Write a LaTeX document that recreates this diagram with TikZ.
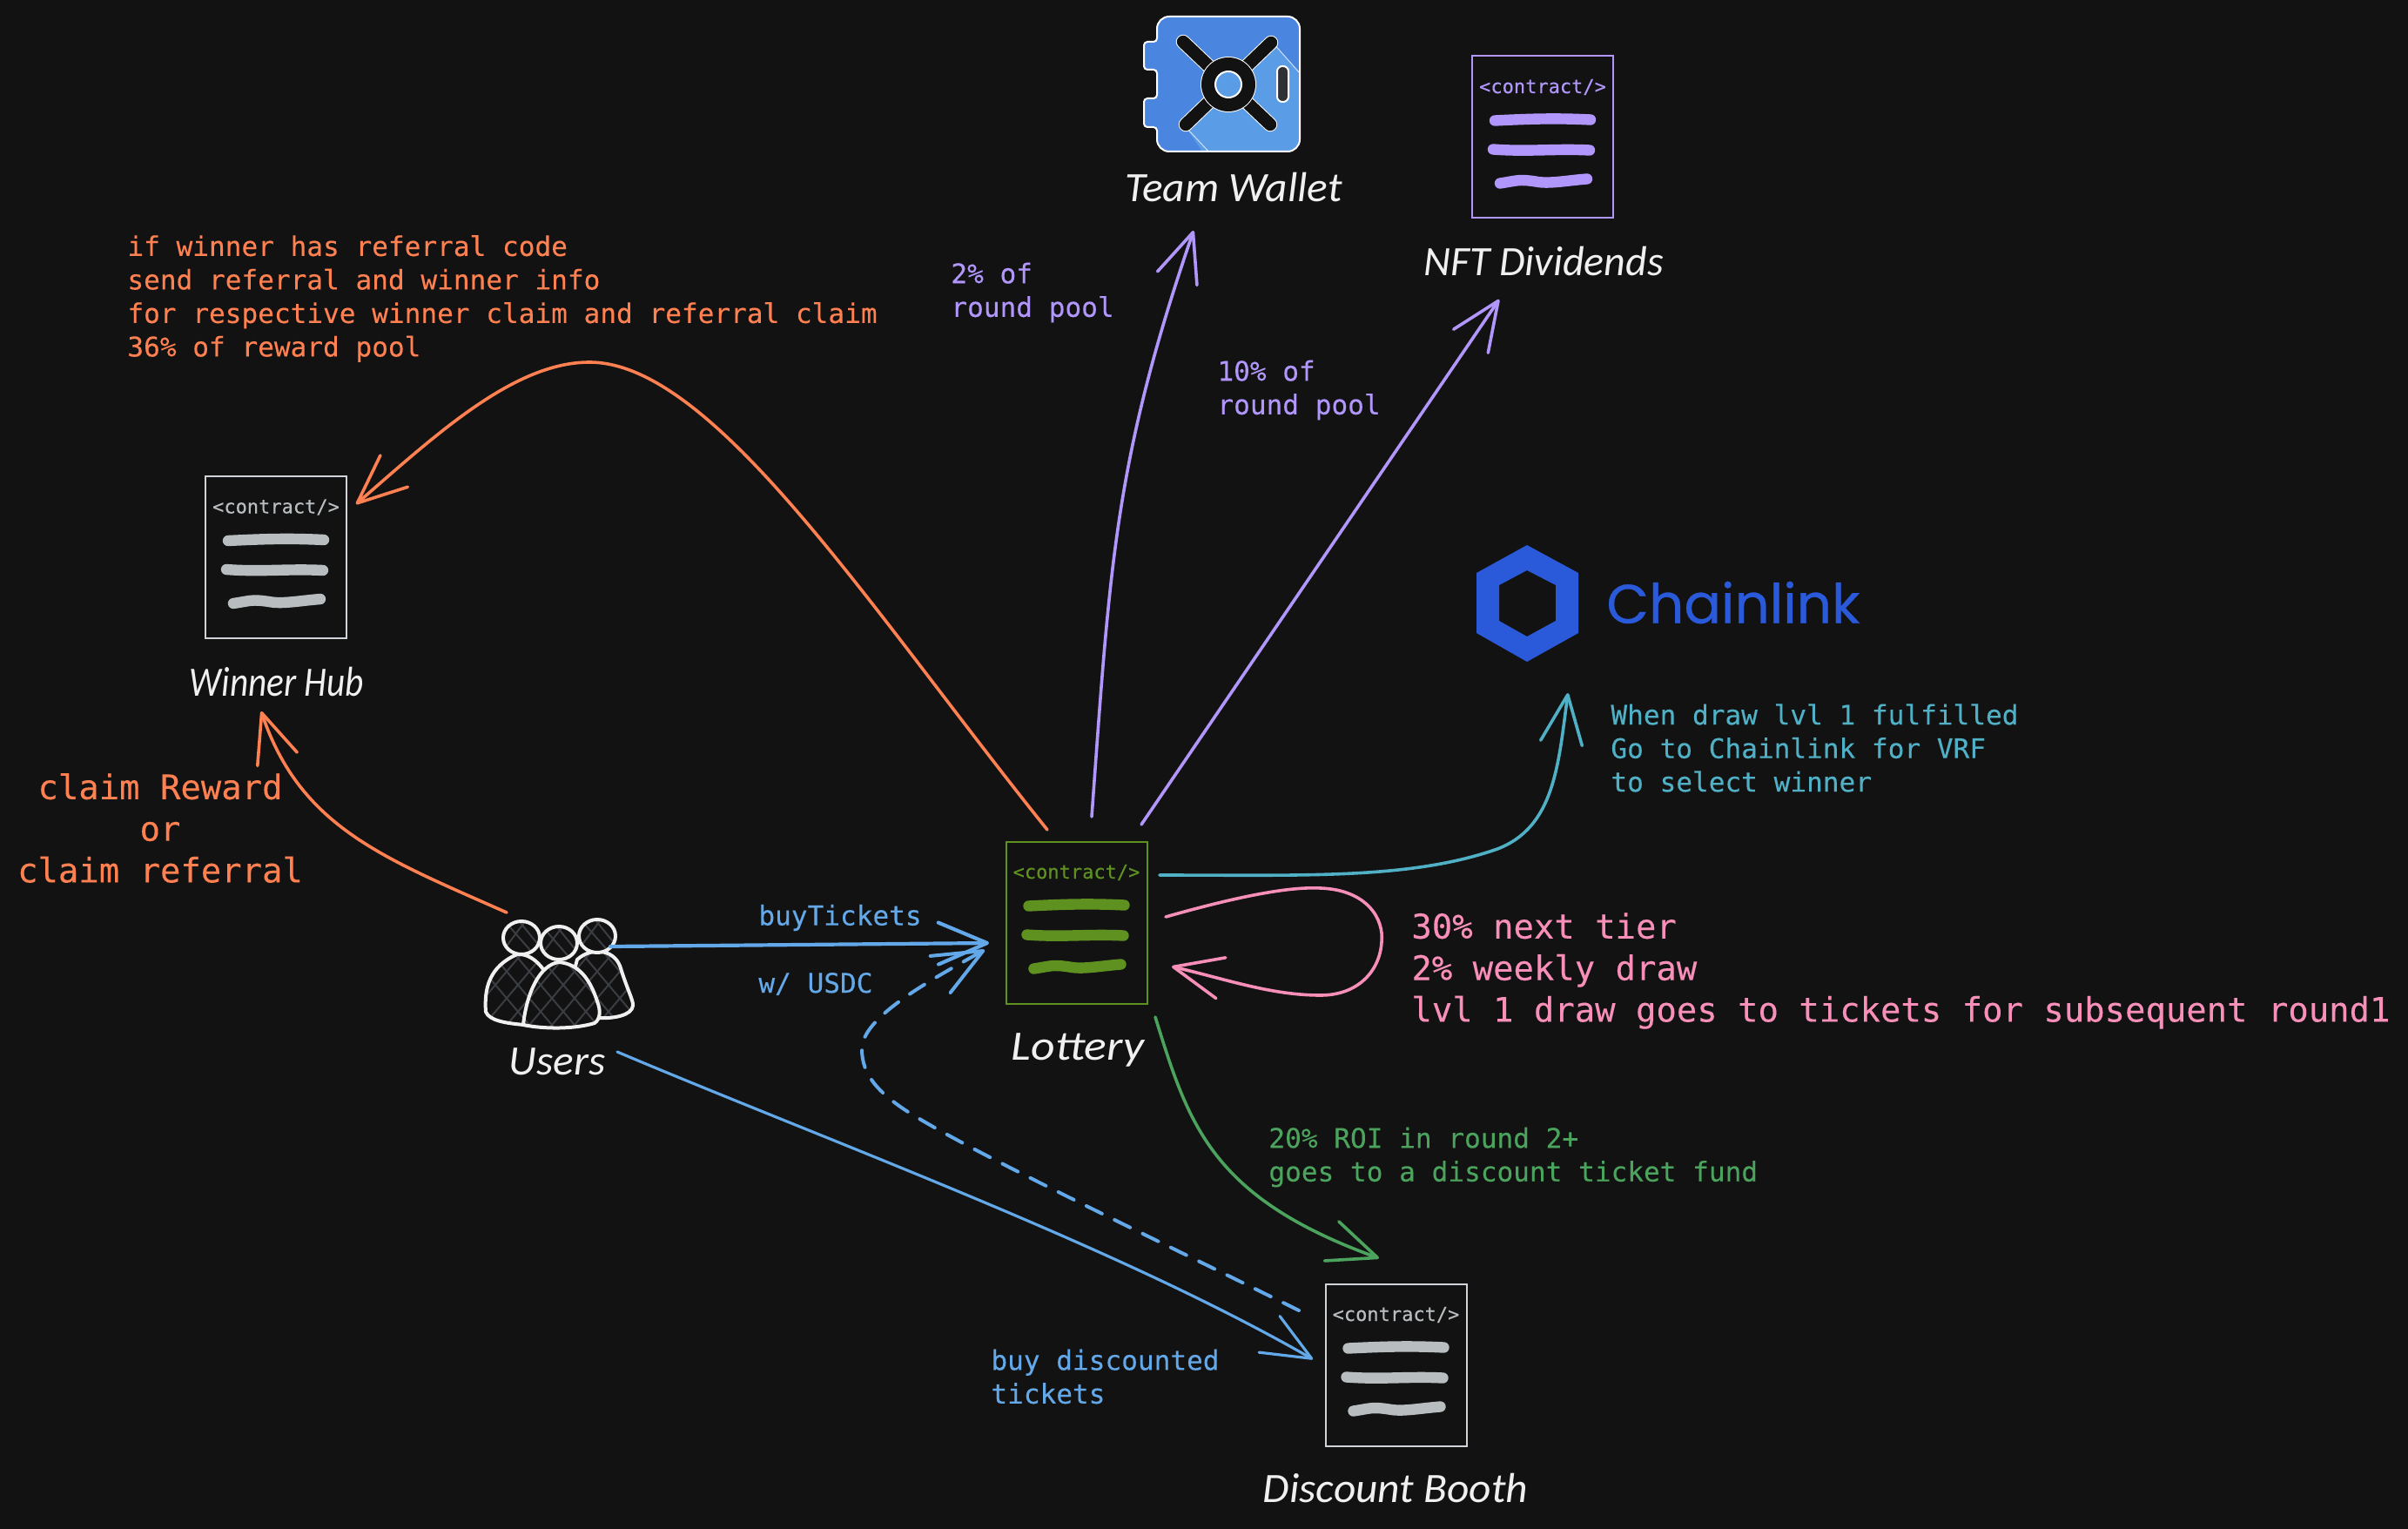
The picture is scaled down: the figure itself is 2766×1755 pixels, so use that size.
\documentclass[tikz,border=0pt]{standalone}
\usepackage{fontspec}
\setmainfont{Carlito}
\setmonofont[FakeBold=0.2]{DejaVu Sans Mono}
\newfontfamily\chainfont[FakeBold=0.5]{Poppins}
\usetikzlibrary{arrows.meta}
\definecolor{bgc}{HTML}{121212}
\definecolor{orangec}{HTML}{FF8050}
\definecolor{purplec}{HTML}{B197FC}
\definecolor{bluec}{HTML}{63A8E8}
\definecolor{tealc}{HTML}{4FB0C6}
\definecolor{pinkc}{HTML}{F78FB8}
\definecolor{greenc}{HTML}{4BA35E}
\definecolor{lotc}{HTML}{5F9120}
\definecolor{greyc}{HTML}{B8BDC0}
\definecolor{boxc}{HTML}{D0D4D8}
\definecolor{inkc}{HTML}{F0F0F0}
\definecolor{hatchc}{HTML}{3A3D42}
\definecolor{walleta}{HTML}{4A86E0}
\definecolor{walletb}{HTML}{5B9CE6}
\definecolor{chainc}{HTML}{2A5ADA}
\tikzset{
  contractbox/.style={draw=#1,line width=1pt,minimum width=81pt,minimum height=93pt,inner sep=0,outer sep=0},
  ctag/.style={font=\fontsize{11}{13}\selectfont\ttfamily,inner sep=0,text=#1},
  barline/.style={draw=#1,line width=6.2pt,line cap=round},
  hand/.style={font=\fontsize{24}{28}\selectfont\itshape,text=inkc,inner sep=0},
  small/.style={font=\fontsize{15.55}{19.25}\selectfont\ttfamily,align=left,anchor=west,inner sep=0,text=#1},
  big/.style={font=\fontsize{19.45}{23.9}\selectfont\ttfamily,inner sep=0,text=#1},
  arr/.style={-{Straight Barb[length=28pt,width=24pt,round]},line width=1.8pt,line cap=round,draw=#1},
  person/.style={draw=inkc,line width=2pt,fill=bgc,line join=round},
  hatch/.style={draw=hatchc,line width=1pt}
}
\newcommand{\contractdoc}[5]{%
  \node[contractbox=#4] (#1) at (#2,#3) {};
  \node[ctag=#5] (#1tag) at ([shift={(0,-57.5)}]#1.center) {<contract/>};
  \draw[barline=#5] ([shift={(-55,-19)}]#1.center) .. controls +(40,-2) and +(-40,-2) .. ([shift={(55,-20)}]#1.center);
  \draw[barline=#5] ([shift={(-57,14)}]#1.center) .. controls +(40,3) and +(-40,-2) .. ([shift={(54,15)}]#1.center);
  \draw[barline=#5] ([shift={(-49,53)}]#1.center) .. controls +(20,-3) and +(-20,-3) .. ([shift={(-8,51)}]#1.center) .. controls +(15,3) and +(-25,2) .. ([shift={(51,48)}]#1.center);
}
\newcommand{\bodyA}{(558,1162) .. controls (556,1135) and (562,1110) .. (594,1096) .. controls (612,1095) and (625,1110) .. (640,1140) -- (640,1178) -- (602,1177) .. controls (580,1175) and (562,1172) .. (558,1162) -- cycle}
\newcommand{\bodyB}{(663,1102) .. controls (672,1094) and (682,1092) .. (691,1093) .. controls (705,1095) and (711,1105) .. (713,1112) .. controls (720,1135) and (728,1150) .. (727,1155) .. controls (726,1166) and (705,1170) .. (688,1169) -- (650,1150) -- cycle}
\newcommand{\bodyC}{(642,1105) .. controls (620,1108) and (605,1140) .. (601,1177) .. controls (625,1182) and (660,1182) .. (683,1175) .. controls (690,1170) and (690,1160) .. (686,1150) .. controls (678,1125) and (665,1107) .. (642,1105) -- cycle}
\newcommand{\hatchlines}{%
  \foreach \k in {0,...,12}{
    \draw[hatch] (530+\k*26,1085) -- ++(110,130);
    \draw[hatch] (530+\k*26,1085) -- ++(-110,130);
  }}
\newcommand{\walletbody}{[rounded corners=7pt] (1329,19) -- (1493,19) -- (1493,174) -- (1329,174) [rounded corners=2pt] -- (1329,146) -- (1314,146) -- (1314,113) -- (1329,113) -- (1329,80) -- (1314,80) -- (1314,48) -- (1329,48) [rounded corners=7pt] -- cycle}
\begin{document}
\begin{tikzpicture}[x=0.5pt,y=-0.5pt]
\useasboundingbox (0,0) rectangle (2766,1755);
\fill[bgc] (-6,-6) rectangle (2772,1761);

% contract documents
\contractdoc{winner}{317}{640}{boxc}{greyc}
\contractdoc{lottery}{1236.5}{1059.5}{lotc}{lotc}
\contractdoc{nft}{1772}{157.5}{purplec}{purplec}
\contractdoc{discount}{1603.5}{1567.5}{boxc}{greyc}

% team wallet icon
\begin{scope}
  \clip \walletbody;
  \fill[walleta] (1300,0) rectangle (1500,190);
  \fill[walletb] (1462,49) -- (1500,92) -- (1500,190) -- (1392,190) -- (1362,146) -- cycle;
  \draw[white!70!walletb,line width=0.5pt] (1462,49) -- (1500,92) (1392,178) -- (1362,146);
\end{scope}
\draw[white,line width=1pt] \walletbody;
\draw[white,line width=8.2pt,line cap=round] (1359,48) -- (1459,143) (1460,49) -- (1362,143);
\draw[bgc,line width=7.2pt,line cap=round] (1359,48) -- (1459,143) (1460,49) -- (1362,143);
\fill[white] (1411,97) circle (32);
\fill[bgc] (1411,97) circle (31);
\draw[white,fill=walletb,line width=1pt] (1411,97) circle (15);
\draw[white,fill=hatchc!70!bgc,line width=1pt,rounded corners=3pt] (1467,76) rectangle (1480,117);
\node[inner sep=0] (walleticon) at (1411,97) {};

% chainlink logo
\fill[chainc,even odd rule] (1754,626) -- (1813,658) -- (1813,727) -- (1754,760) -- (1696,727) -- (1696,658) -- cycle
  (1754,655) -- (1787,672) -- (1787,713) -- (1754,731) -- (1722,713) -- (1722,672) -- cycle;
\node[inner sep=0] (chainicon) at (1754,693) {};
\node[anchor=west,inner sep=0,text=chainc,font=\fontsize{31.5}{36}\selectfont\chainfont] (chainname) at (1845,692) {Chainlink};

% users icon
\node[inner sep=0] (usersicon) at (640,1130) {};
\fill[bgc] \bodyA; 
\begin{scope}\clip \bodyA; \hatchlines \end{scope}
\draw[person,fill=none] \bodyA;
\fill[bgc] \bodyB;
\begin{scope}\clip \bodyB; \hatchlines \end{scope}
\draw[person,fill=none] \bodyB;
\fill[bgc] \bodyC;
\begin{scope}\clip \bodyC; \hatchlines \end{scope}
\draw[person,fill=none] \bodyC;
\foreach \hx/\hy in {599/1077,686/1075,642/1083}{
  \begin{scope}
    \clip (\hx,\hy) ellipse (21 and 19);
    \fill[bgc] (\hx-25,\hy-25) rectangle (\hx+25,\hy+25);
    \draw[hatch] (\hx-20,\hy-20) -- (\hx+15,\hy+20) (\hx+5,\hy-20) -- (\hx-25,\hy+20) (\hx-5,\hy-22) -- (\hx+25,\hy+15);
  \end{scope}
  \draw[draw=inkc,line width=2pt] (\hx,\hy) ellipse (21 and 19);
}

% labels
\node[hand] (teamlabel) at (1417,215) {\scalebox{1.03}[1]{Team Wallet}};
\node[hand] (nftlabel) at (1773,300) {NFT Dividends};
\node[hand] (winnerlabel) at (318,783) {\scalebox{0.86}[1]{Winner Hub}};
\node[hand] (userslabel) at (640,1219) {\scalebox{1.03}[1]{Users}};
\node[hand] (lotterylabel) at (1238,1206) {\scalebox{1.12}[1]{Lottery}};
\node[hand] (discountlabel) at (1603,1709) {\scalebox{1.03}[1]{Discount Booth}};

% texts
\node[small=orangec] (ordertext) at (146,343) {if winner has referral code\\send referral and winner info\\for respective winner claim and referral claim\\36\% of reward pool};
\node[big=orangec,align=center] (claimtext) at (184,951) {claim Reward\\or\\claim referral};
\node[small=purplec] (teampct) at (1092,336) {2\% of\\round pool};
\node[small=purplec] (nftpct) at (1398,448) {10\% of\\round pool};
\node[small=tealc] (vrftext) at (1850,859) {When draw lvl 1 fulfilled\\Go to Chainlink for VRF\\to select winner};
\node[small=bluec] (buytext) at (871,1054) {buyTickets};
\node[small=bluec] (usdctext) at (871,1130) {w/ USDC};
\node[big=pinkc,align=left,anchor=west] (tiertext) at (1621,1115) {30\% next tier\\2\% weekly draw\\lvl 1 draw goes to tickets for subsequent round1};
\node[small=greenc] (roitext) at (1457,1329) {20\% ROI in round 2+\\goes to a discount ticket fund};
\node[small=bluec] (disctext) at (1138,1581) {buy discounted\\tickets};

% connectors
\draw[arr=orangec] ([shift={(-33.5,-106.5)}]lottery.center) .. controls (1000,700) and (820,416) .. (677,416) .. controls (590,416) and (500,500) .. ([shift={(92,-61)}]winner.center);
\draw[arr=orangec] ([shift={(-58,-82)}]usersicon.center) .. controls (440,985) and (345,950) .. ([shift={(-18,34)}]winnerlabel.center);
\draw[arr=bluec,line width=2.1pt] ([shift={(61,-43)}]usersicon.center) -- ([shift={(-100.5,23.5)}]lottery.center);
\draw[arr=bluec,line width=2pt,dash pattern=on 10pt off 8pt] ([shift={(-111.5,-62.5)}]discount.center) .. controls (1300,1410) and (1110,1320) .. (1040,1275) .. controls (1010,1255) and (990,1235) .. (990,1205) .. controls (990,1170) and (1060,1130) .. ([shift={(-105.5,31.5)}]lottery.center);
\draw[arr=bluec,line width=1.6pt] ([shift={(69,-11)}]userslabel.center) .. controls (950,1310) and (1280,1430) .. ([shift={(-95.5,-6.5)}]discount.center);
\draw[arr=purplec] ([shift={(17.5,-121.5)}]lottery.center) .. controls (1275,650) and (1280,530) .. ([shift={(-46,50)}]teamlabel.center);
\draw[arr=purplec] ([shift={(74.5,-112.5)}]lottery.center) -- ([shift={(-51,44)}]nftlabel.center);
\draw[arr=tealc] ([shift={(95.5,-54.5)}]lottery.center) .. controls (1500,1005) and (1620,1010) .. (1720,975) .. controls (1785,950) and (1790,880) .. ([shift={(47,103)}]chainicon.center);
\draw[arr=pinkc] ([shift={(102.5,-6.5)}]lottery.center) .. controls (1420,1030) and (1480,1018) .. (1517,1020) .. controls (1570,1022) and (1590,1055) .. (1587,1082) .. controls (1585,1115) and (1560,1143) .. (1517,1143) .. controls (1460,1143) and (1410,1125) .. ([shift={(109.5,50.5)}]lottery.center);
\draw[arr=greenc] ([shift={(90.5,108.5)}]lottery.center) .. controls (1365,1290) and (1390,1375) .. ([shift={(-19.5,-122.5)}]discount.center);
\end{tikzpicture}
\end{document}
